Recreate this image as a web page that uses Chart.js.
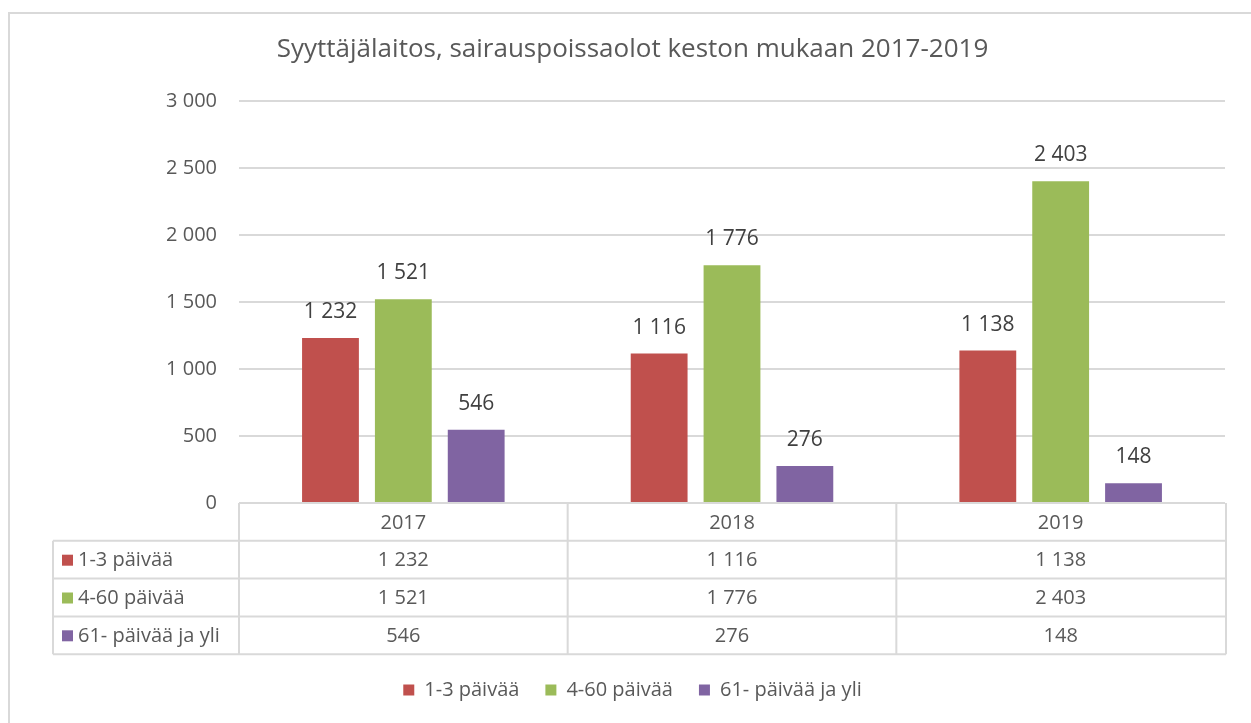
<!DOCTYPE html>
<html>
<head>
<meta charset="utf-8">
<script src="https://cdn.jsdelivr.net/npm/chart.js@4"></script>
<style>
body { margin: 0; background: #fff; }
</style>
</head>
<body>
<canvas id="myChart" width="1251" height="723"></canvas>
<script>
var years = ['2017', '2018', '2019'];
var seriesNames = ['1-3 päivää', '4-60 päivää', '61- päivää ja yli'];
var days1to3 = [1232, 1116, 1138];
var days4to60 = [1521, 1776, 2403];
var days61plus = [546, 276, 148];
var yTicks = [0, 500, 1000, 1500, 2000, 2500, 3000];
var colors = ['#C0504D', '#9BBB59', '#8064A2'];

var FONT = '"Open Sans", "Liberation Sans", sans-serif';
var TEXT = '#595959';
var LINE = '#d9d9d9';

function fmt(v) {
    return String(v).replace(/\B(?=(\d{3})+(?!\d))/g, ' ');
}

// frame round the whole picture
var framePlugin = {
    id: 'frame',
    beforeDraw: function(chart) {
        var ctx = chart.ctx;
        ctx.save();
        ctx.strokeStyle = LINE;
        ctx.lineWidth = 2;
        ctx.beginPath();
        ctx.moveTo(9, chart.height);
        ctx.lineTo(9, 13);
        ctx.lineTo(chart.width, 13);
        ctx.stroke();
        ctx.restore();
    }
};

// value above each bar
var valuePlugin = {
    id: 'values',
    afterDatasetsDraw: function(chart) {
        var ctx = chart.ctx;
        ctx.save();
        ctx.font = '21px ' + FONT;
        ctx.fillStyle = '#404040';
        ctx.textAlign = 'center';
        ctx.textBaseline = 'middle';
        chart.data.datasets.forEach(function(ds, i) {
            chart.getDatasetMeta(i).data.forEach(function(bar, j) {
                ctx.fillText(fmt(ds.data[j]), bar.x, bar.y - 26);
            });
        });
        ctx.restore();
    }
};

// data table under the axis
var tablePlugin = {
    id: 'dataTable',
    afterDraw: function(chart) {
        var ctx = chart.ctx;
        var area = chart.chartArea;
        var xs = chart.scales.x;
        var top = area.bottom;
        var rowH = 37.8;
        var labelLeft = 53;
        var half = (area.right - area.left) / years.length / 2;
        var bottom = top + rowH * 4;
        var i, j;

        ctx.save();
        ctx.strokeStyle = LINE;
        ctx.lineWidth = 2;
        ctx.beginPath();
        // horizontal lines
        for (i = 1; i <= 4; i++) {
            ctx.moveTo(labelLeft, top + rowH * i);
            ctx.lineTo(area.right + 1, top + rowH * i);
        }
        // vertical lines
        ctx.moveTo(labelLeft, top + rowH);
        ctx.lineTo(labelLeft, bottom);
        for (j = 0; j < years.length; j++) {
            var xl = xs.getPixelForValue(j) - half;
            ctx.moveTo(xl, top);
            ctx.lineTo(xl, bottom);
        }
        ctx.moveTo(area.right + 1, top);
        ctx.lineTo(area.right + 1, bottom);
        ctx.stroke();

        ctx.font = '20px ' + FONT;
        ctx.fillStyle = TEXT;
        ctx.textBaseline = 'middle';
        ctx.textAlign = 'center';
        years.forEach(function(y, j) {
            ctx.fillText(y, xs.getPixelForValue(j), top + rowH / 2 + 1);
        });
        chart.data.datasets.forEach(function(ds, i) {
            var cy = top + rowH * (i + 1) + rowH / 2 + 1;
            ds.data.forEach(function(v, j) {
                ctx.textAlign = 'center';
                ctx.fillText(fmt(v), xs.getPixelForValue(j), cy);
            });
            ctx.fillStyle = ds.backgroundColor;
            ctx.fillRect(labelLeft + 9, cy - 6, 11, 11);
            ctx.fillStyle = TEXT;
            ctx.textAlign = 'left';
            ctx.fillText(ds.label, labelLeft + 25, cy);
        });
        ctx.restore();
    }
};

var ctx = document.getElementById('myChart').getContext('2d');
var myChart = new Chart(ctx, {
    type: 'bar',
    data: {
        labels: years,
        datasets: [
            { label: seriesNames[0], data: days1to3, backgroundColor: colors[0] },
            { label: seriesNames[1], data: days4to60, backgroundColor: colors[1] },
            { label: seriesNames[2], data: days61plus, backgroundColor: colors[2] }
        ]
    },
    options: {
        responsive: false,
        animation: false,
        layout: {
            padding: { top: 0, right: 26, bottom: 13, left: 40 }
        },
        datasets: {
            bar: { categoryPercentage: 0.665, barPercentage: 0.78 }
        },
        plugins: {
            title: {
                display: true,
                text: 'Syyttäjälaitos, sairauspoissaolot keston mukaan 2017-2019',
                color: TEXT,
                font: { family: FONT, size: 26, weight: 'normal' },
                padding: { top: 34, bottom: 36 }
            },
            legend: {
                position: 'bottom',
                labels: {
                    color: TEXT,
                    font: { family: FONT, size: 20 },
                    boxWidth: 11,
                    boxHeight: 11,
                    padding: 26
                }
            },
            tooltip: { enabled: false }
        },
        scales: {
            x: {
                grid: { display: false },
                border: { display: false },
                ticks: { display: false },
                afterFit: function(s) { s.height = 151; }
            },
            y: {
                min: yTicks[0],
                max: yTicks[yTicks.length - 1],
                afterBuildTicks: function(s) {
                    s.ticks = yTicks.map(function(v) { return { value: v }; });
                },
                afterFit: function(s) { s.width = 199; },
                grid: { color: LINE, lineWidth: 2, drawTicks: false },
                border: { display: false },
                ticks: {
                    color: TEXT,
                    padding: 22,
                    font: { family: FONT, size: 20 },
                    callback: function(v) { return fmt(v); }
                }
            }
        }
    },
    plugins: [framePlugin, valuePlugin, tablePlugin]
});
</script>
</body>
</html>
